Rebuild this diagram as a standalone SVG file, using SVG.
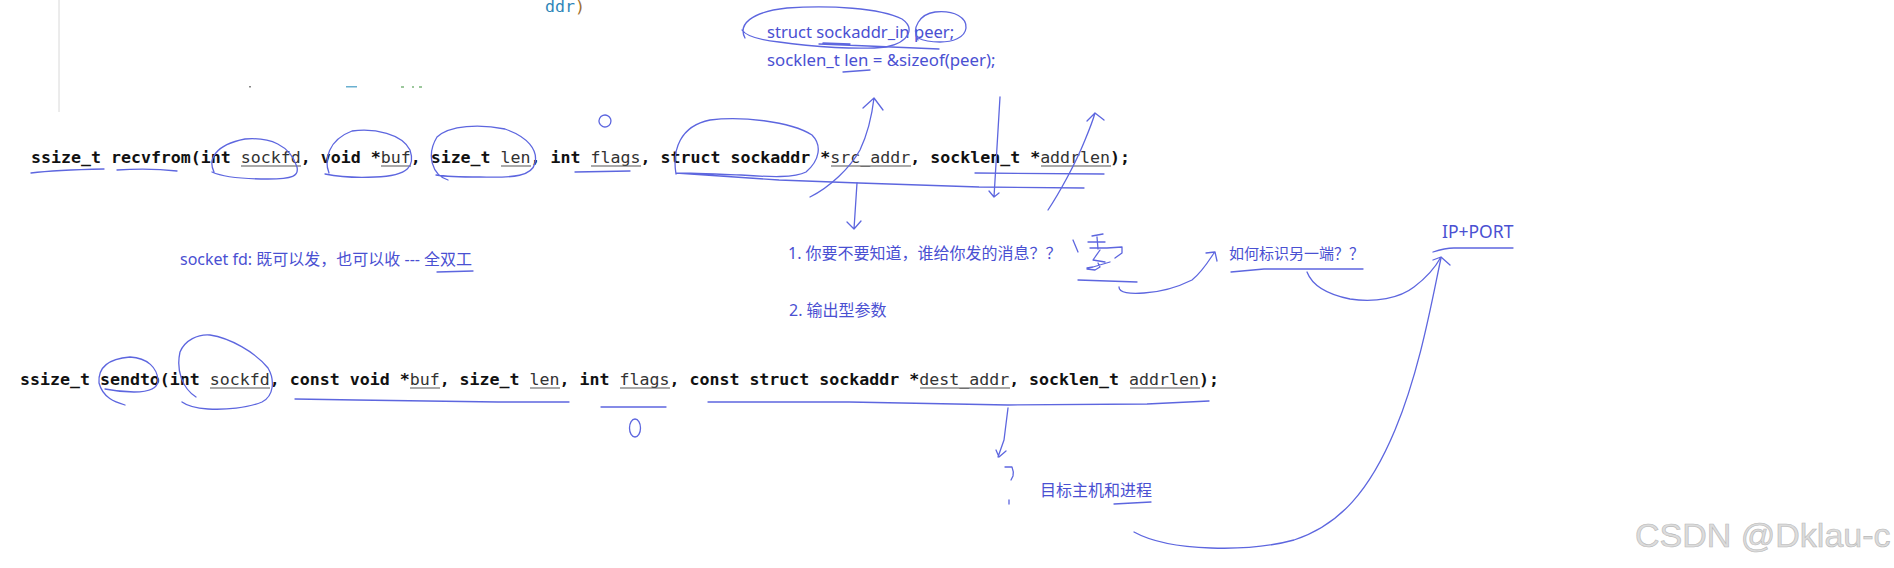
<svg xmlns="http://www.w3.org/2000/svg" width="1894" height="568" viewBox="0 0 1894 568">
<style>
.code{font-family:"DejaVu Sans Mono","Liberation Mono",monospace;font-weight:bold;font-size:16.6px;fill:#111}
.p{font-weight:normal;fill:#333}
.ul{stroke:#555;stroke-width:1.1;fill:none}
.ink{fill:none;stroke:#5d66df;stroke-width:1.3;stroke-linecap:round;stroke-linejoin:round}
.note{font-family:"Noto Sans","Noto Sans CJK SC",sans-serif;fill:#4a50d2}
.wm{font-family:"Liberation Sans",Arial,sans-serif;font-size:34px;fill:#dcdcdc;stroke:#b8b8b8;stroke-width:0.6}
</style>
<rect width="1894" height="568" fill="#ffffff"/>
<g id="editor-remnants">
<line x1="59" y1="0" x2="59" y2="112" stroke="#d8d8d8" stroke-width="1"/>
<text x="545" y="12" font-family="DejaVu Sans Mono,monospace" font-size="16.6" fill="#2f86b8">ddr<tspan fill="#a07030">)</tspan></text>
<rect x="249" y="86" width="2" height="1.5" fill="#888"/>
<rect x="346" y="86" width="11" height="1.5" fill="#6ab0d0"/>
<rect x="401" y="86" width="3" height="2" fill="#9cc89c"/>
<rect x="412" y="86" width="2" height="2" fill="#9cc89c"/>
<rect x="419" y="86" width="3" height="2" fill="#9cc89c"/>
</g>
<g id="recvfrom">
<text class="code" x="31" y="163" xml:space="preserve">ssize_t recvfrom(int <tspan class="p">sockfd</tspan>, void *<tspan class="p">buf</tspan>, size_t <tspan class="p">len</tspan>, int <tspan class="p">flags</tspan>, struct sockaddr *<tspan class="p">src_addr</tspan>, socklen_t *<tspan class="p">addrlen</tspan>);</text>
<path class="ul" d="M241,166H301M381,166H411M501,166H531M591,166H641M831,166H911M1041,166H1111"/>
</g>
<g id="sendto">
<text class="code" x="20" y="385" xml:space="preserve">ssize_t sendto(int <tspan class="p">sockfd</tspan>, const void *<tspan class="p">buf</tspan>, size_t <tspan class="p">len</tspan>, int <tspan class="p">flags</tspan>, const struct sockaddr *<tspan class="p">dest_addr</tspan>, socklen_t <tspan class="p">addrlen</tspan>);</text>
<path class="ul" d="M210,388H270M410,388H440M530,388H560M620,388H670M920,388H1010M1130,388H1200"/>
</g>
<g id="peer-decl">
<text class="note" x="767" y="38" font-size="16.6">struct sockaddr_in peer;</text>
<text class="note" x="767" y="66" font-size="16.8">socklen_t len = &amp;sizeof(peer);</text>
</g>
<g id="note-socketfd"><text class="note" x="180" y="265" font-size="16">socket fd: 既可以发，也可以收 --- 全双工</text></g>
<g id="note-1"><text class="note" x="788" y="259" font-size="16">1. 你要不要知道，谁给你发的消息？？</text></g>
<g id="note-2"><text class="note" x="789" y="316" font-size="16">2. 输出型参数</text></g>
<g id="note-identify"><text class="note" x="1229" y="259" font-size="15">如何标识另一端？？</text></g>
<g id="note-ipport"><text class="note" x="1442" y="238" font-size="17.5">IP+PORT</text></g>
<g id="note-target"><text class="note" x="1040" y="496" font-size="16">目标主机和进程</text></g>
<g id="ink-marks">
<path class="ink" d="M31,173Q55,170 104,169"/>
<path class="ink" d="M117,170Q150,168 177,171"/>
<path class="ink" d="M214,172C208,160 214,145 245,139C270,137 290,145 297,167C299,176 293,179 268,179C245,179 225,178 212,172"/>
<path class="ink" d="M329,173C324,160 328,140 352,131C375,128 402,134 410,150C415,165 410,176 375,177C355,178 335,176 325,174"/>
<path class="ink" d="M448,180C432,175 426,155 437,137C450,125 480,124 505,129C528,137 538,150 535,163C532,176 515,178 480,177C458,177 442,176 436,175"/>
<path class="ink" d="M575,172L630,171"/>
<ellipse class="ink" cx="605" cy="121" rx="6" ry="6" transform="rotate(-20 605 121)"/>
<path class="ink" d="M676,174C672,150 680,126 710,120C740,116 790,121 812,135C822,145 820,160 806,172C795,178 770,177 741,175C715,174 690,173 676,173L779,180L859,183L979,187L1084,188"/>
<path class="ink" d="M975,173L1104,174"/>
<path class="ink" d="M745,38C738,25 750,12 787,8C830,5 880,8 902,19C915,28 910,42 886,47C860,50 812,47 779,42C760,40 746,36 742,30"/>
<path class="ink" d="M918,40C911,28 920,14 935,12C955,10 967,18 966,28C965,38 952,42 940,42C930,42 922,40 918,38"/>
<path class="ink" d="M819,44L868,46L939,49M823,43L850,44"/>
<path class="ink" d="M843,72L870,70"/>
<path class="ink" d="M437,272L473,271"/>
<path class="ink" d="M1073,240L1078,252M1092,236L1103,234M1097,237L1098,249M1088,242L1105,242M1090,248L1107,248L1122,247L1122,253L1115,258M1100,250L1093,260L1105,262M1087,268L1093,267L1110,262M1098,263L1100,267L1095,270L1087,269"/>
<path class="ink" d="M1078,280L1137,282"/>
<path class="ink" d="M1231,272L1264,269L1363,269"/>
<path class="ink" d="M1433,252Q1445,248 1454,248L1513,248"/>
<path class="ink" d="M125,405C115,402 103,398 99,383C98,370 105,359 130,357C148,358 157,368 158,380C158,388 150,392 134,392C120,392 110,390 105,389"/>
<path class="ink" d="M196,397C182,388 176,370 180,352C185,340 198,334 210,335C230,338 255,352 268,368C275,380 274,396 262,402C248,408 225,410 208,409C195,408 186,405 182,402"/>
<path class="ink" d="M295,399L356,400L498,402L569,402"/>
<path class="ink" d="M601,407L666,407"/>
<ellipse class="ink" cx="635" cy="428" rx="5.5" ry="9"/>
<path class="ink" d="M708,402L849,402L1008,405L1147,404L1209,401"/>
<path class="ink" d="M1005,467L1012,467Q1014,472 1013,476L1011,480M1009,500L1009,504"/>
<path class="ink" d="M1114,504L1151,502"/>
</g>
<g id="connectors">
<path class="ink" d="M810,197C830,187 850,168 860,150C868,133 872,115 874,98M863,108L874,98L883,110"/>
<path class="ink" d="M857,183L854,229M847,222L854,229L861,221"/>
<path class="ink" d="M1000,97L994,197M989,191L994,197L999,193"/>
<path class="ink" d="M1048,210C1058,195 1075,165 1085,140C1090,128 1093,120 1095,113M1087,121L1095,113L1104,120"/>
<path class="ink" d="M1119,287C1119,293 1130,294 1144,293C1160,292 1178,287 1192,280C1202,272 1208,262 1214,253M1206,253L1215,252L1217,261"/>
<path class="ink" d="M1307,272C1312,285 1325,294 1350,299C1375,303 1400,298 1414,287C1426,278 1435,268 1441,257M1433,260L1441,257L1450,265"/>
<path class="ink" d="M1134,532C1170,552 1250,552 1294,540C1340,525 1370,490 1395,430C1420,370 1432,300 1441,258"/>
<path class="ink" d="M1008,408L1004,440L998,457M996,450L999,457L1006,451"/>
</g>
<g id="watermark"><text class="wm" x="1635" y="547">CSDN @Dklau-c</text></g>
</svg>
